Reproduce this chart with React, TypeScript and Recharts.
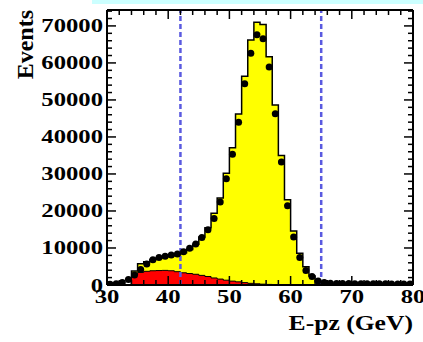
import React from "react";
import {
  ComposedChart,
  Area,
  Scatter,
  XAxis,
  YAxis,
  ReferenceLine,
} from "recharts";

// 1 GeV bins, low edges
const binLowEdges = [
  30, 31, 32, 33, 34, 35, 36, 37, 38, 39, 40, 41, 42, 43, 44, 45, 46, 47, 48, 49,
  50, 51, 52, 53, 54, 55, 56, 57, 58, 59, 60, 61, 62, 63, 64, 65, 66, 67, 68, 69,
  70, 71, 72, 73, 74, 75, 76, 77, 78, 79,
];
const lastEdge = 80;

const binCenters = [
  30.5, 31.5, 32.5, 33.5, 34.5, 35.5, 36.5, 37.5, 38.5, 39.5, 40.5, 41.5, 42.5,
  43.5, 44.5, 45.5, 46.5, 47.5, 48.5, 49.5, 50.5, 51.5, 52.5, 53.5, 54.5, 55.5,
  56.5, 57.5, 58.5, 59.5, 60.5, 61.5, 62.5, 63.5, 64.5, 65.5, 66.5, 67.5, 68.5,
  69.5, 70.5, 71.5, 72.5, 73.5, 74.5, 75.5, 76.5, 77.5, 78.5, 79.5,
];

// total MC (yellow)
const mcTotal = [
  0, 0, 0, 0, 3800, 5750, 6300, 6900, 7300, 7600, 7900, 8200, 8700, 9600, 11000,
  13000, 15500, 19400, 23500, 30200, 37100, 46200, 56400, 66200, 71000, 70400,
  61700, 48600, 35000, 23000, 14600, 8550, 4950, 2430, 900, 0, 0, 0, 0, 0, 0, 0,
  0, 0, 0, 0, 0, 0, 0, 0,
];

// background MC (red)
const mcBackground = [
  0, 0, 0, 0, 2700, 3400, 3700, 3850, 3900, 3950, 3850, 3600, 3300, 3100, 2900,
  2600, 2300, 1900, 1600, 1300, 1050, 850, 650, 450, 330, 230, 160, 100, 60, 30,
  10, 0, 0, 0, 0, 0, 0, 0, 0, 0, 0, 0, 0, 0, 0, 0, 0, 0, 0, 0,
];

// data points
const dataCounts = [
  200, 350, 700, 1500, 2700, 4200, 5700, 6800, 7400, 7800, 8100, 8400, 9000, 9900,
  11100, 12800, 14900, 18000, 22400, 28700, 35300, 44000, 54400, 62600, 67600,
  66500, 58900, 46300, 33200, 21400, 13000, 7400, 3900, 2300, 1100, 650, 480, 430,
  400, 380, 360, 350, 340, 330, 320, 310, 300, 300, 290, 280,
];

const cutValues = [42, 65];

const xTicks = [
  30, 32, 34, 36, 38, 40, 42, 44, 46, 48, 50, 52, 54, 56, 58, 60, 62, 64, 66, 68,
  70, 72, 74, 76, 78, 80,
];
const yTicks = [
  0, 2000, 4000, 6000, 8000, 10000, 12000, 14000, 16000, 18000, 20000, 22000,
  24000, 26000, 28000, 30000, 32000, 34000, 36000, 38000, 40000, 42000, 44000,
  46000, 48000, 50000, 52000, 54000, 56000, 58000, 60000, 62000, 64000, 66000,
  68000, 70000, 72000, 74000,
];

const histRows = binLowEdges
  .map((x, i) => ({ x, mc: mcTotal[i], bg: mcBackground[i] }))
  .concat([
    {
      x: lastEdge,
      mc: mcTotal[mcTotal.length - 1],
      bg: mcBackground[mcBackground.length - 1],
    },
  ]);

const pointRows = binCenters.map((x, i) => ({ x, y: dataCounts[i] }));

const FONT = "'Liberation Serif', 'Times New Roman', serif";
const W = 423;
const H = 342;
const M = { top: 9, right: 9, bottom: 56, left: 106 };
const PLOT = { left: 107, right: 413, top: 10, bottom: 285 };

function BottomTick(props: any) {
  const { x, payload } = props;
  const y = PLOT.bottom;
  const major = payload.value % 10 === 0;
  return (
    <g>
      <line x1={x} y1={y} x2={x} y2={y - (major ? 9 : 5)} stroke="#000" strokeWidth={1.5} />
      {major && (
        <text
          transform={`translate(${x},${y + 18}) scale(1.3,1)`}
          textAnchor="middle"
          fontFamily={FONT}
          fontWeight="bold"
          fontSize={19}
          fill="#000"
        >
          {payload.value}
        </text>
      )}
    </g>
  );
}

function TopTick(props: any) {
  const { x, payload } = props;
  const y = PLOT.top;
  const major = payload.value % 10 === 0;
  return <line x1={x} y1={y} x2={x} y2={y + (major ? 9 : 5)} stroke="#000" strokeWidth={1.5} />;
}

function LeftTick(props: any) {
  const { y, payload } = props;
  const x = PLOT.left;
  const major = payload.value % 10000 === 0;
  return (
    <g>
      <line x1={x} y1={y} x2={x + (major ? 9 : 5)} y2={y} stroke="#000" strokeWidth={1.5} />
      {major && (
        <text
          transform={`translate(${x - 4},${y + 6.5}) scale(1.3,1)`}
          textAnchor="end"
          fontFamily={FONT}
          fontWeight="bold"
          fontSize={19}
          fill="#000"
        >
          {payload.value}
        </text>
      )}
    </g>
  );
}

function RightTick(props: any) {
  const { y, payload } = props;
  const x = PLOT.right;
  const major = payload.value % 10000 === 0;
  return <line x1={x} y1={y} x2={x - (major ? 9 : 5)} y2={y} stroke="#000" strokeWidth={1.5} />;
}

const dot = (p: any) => <circle cx={p.cx} cy={p.cy} r={3.5} fill="#000" />;

const cutLine = (p: any) => (
  <line
    x1={p.x1}
    y1={p.y1}
    x2={p.x2}
    y2={p.y2}
    stroke="#5a5ae0"
    strokeWidth={2.5}
    strokeDasharray="5 3"
  />
);

export default function App() {
  const frame = { stroke: "#000", strokeWidth: 2 };
  return (
    <div style={{ position: "absolute", left: 0, top: 0, width: W, height: H, background: "#fff" }}>
      <div style={{ position: "absolute", left: 92, top: 0, width: 331, height: 4, background: "#ccffff" }} />
      <div style={{ position: "absolute", left: 0, top: 0 }}>
        <ComposedChart width={W} height={H} data={histRows} margin={M}>
          <XAxis
            dataKey="x"
            type="number"
            domain={[30, 80]}
            allowDataOverflow
            ticks={xTicks}
            interval={0}
            height={1}
            tickSize={0}
            tickMargin={0}
            tickLine={false}
            axisLine={frame}
            tick={BottomTick}
          />
          <XAxis
            xAxisId="top"
            orientation="top"
            dataKey="x"
            type="number"
            domain={[30, 80]}
            allowDataOverflow
            ticks={xTicks}
            interval={0}
            height={1}
            tickSize={0}
            tickMargin={0}
            tickLine={false}
            axisLine={frame}
            tick={TopTick}
          />
          <YAxis
            type="number"
            domain={[0, 74300]}
            allowDataOverflow
            ticks={yTicks}
            interval={0}
            width={1}
            tickSize={0}
            tickMargin={0}
            tickLine={false}
            axisLine={frame}
            tick={LeftTick}
          />
          <YAxis
            yAxisId="right"
            orientation="right"
            type="number"
            domain={[0, 74300]}
            allowDataOverflow
            ticks={yTicks}
            interval={0}
            width={1}
            tickSize={0}
            tickMargin={0}
            tickLine={false}
            axisLine={frame}
            tick={RightTick}
          />
          <Area
            dataKey="mc"
            type="stepAfter"
            stroke="#000"
            strokeWidth={1.5}
            fill="#ffff00"
            fillOpacity={1}
            baseValue={0}
            dot={false}
            activeDot={false}
            isAnimationActive={false}
          />
          <Area
            dataKey="bg"
            type="stepAfter"
            stroke="#000"
            strokeWidth={1}
            fill="#ff0000"
            fillOpacity={1}
            baseValue={0}
            dot={false}
            activeDot={false}
            isAnimationActive={false}
          />
          {cutValues.map((v) => (
            <ReferenceLine key={v} x={v} shape={cutLine} />
          ))}
          <Scatter data={pointRows} dataKey="y" shape={dot} isAnimationActive={false} />
        </ComposedChart>
      </div>
      <svg width={W} height={H} style={{ position: "absolute", left: 0, top: 0, pointerEvents: "none" }}>
        <text
          transform="translate(33,10) rotate(-90)"
          textAnchor="end"
          fontFamily={FONT}
          fontWeight="bold"
          fontSize={24}
          fill="#000"
        >
          Events
        </text>
        <text
          transform="translate(413,330) scale(1.22,1)"
          textAnchor="end"
          fontFamily={FONT}
          fontWeight="bold"
          fontSize={21}
          fill="#000"
        >
          E-pz (GeV)
        </text>
      </svg>
    </div>
  );
}
